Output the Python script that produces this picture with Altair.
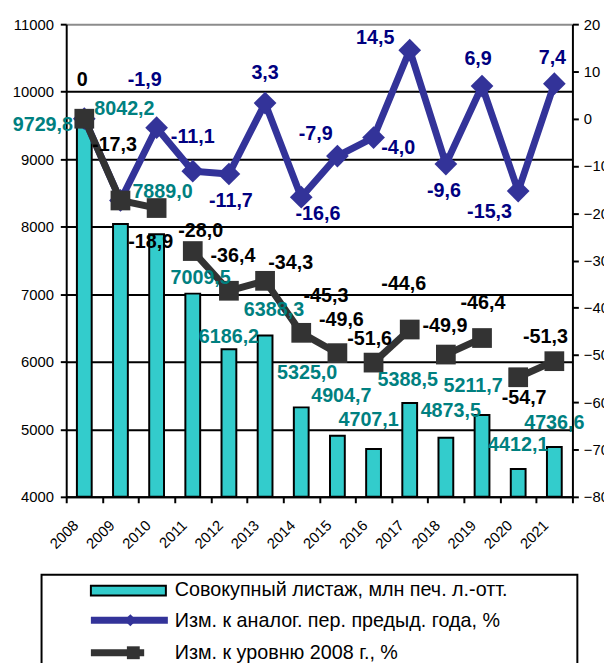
import altair as alt
import pandas as pd

FONT = "Liberation Sans"

# ---------------- data ----------------
years = ["2008", "2009", "2010", "2011", "2012", "2013", "2014",
         "2015", "2016", "2017", "2018", "2019", "2020", "2021"]
sheets = [9729.8, 8042.2, 7889.0, 7009.5, 6186.2, 6388.3, 5325.0,
          4904.7, 4707.1, 5388.5, 4873.5, 5211.7, 4412.1, 4736.6]
yoy = [0.0, -17.3, -1.9, -11.1, -11.7, 3.3, -16.6,
       -7.9, -4.0, 14.5, -9.6, 6.9, -15.3, 7.4]
vs2008 = [0.0, -17.3, -18.9, -28.0, -36.4, -34.3, -45.3,
          -49.6, -51.6, -44.6, -49.9, -46.4, -54.7, -51.3]
yoy_label_shown = [False, False, True, True, True, True, True,
                   True, True, True, True, True, True, True]
# visible pieces of the dark line (segments as drawn in the original)
black_runs = [0, 0, 0, 1, 1, 1, 1, 1, 2, 2, 3, 3, 4, 4]

left_ticks = [4000, 5000, 6000, 7000, 8000, 9000, 10000, 11000]
right_ticks = [-80, -70, -60, -50, -40, -30, -20, -10, 0, 10, 20]

series_names = ["Совокупный листаж, млн печ. л.-отт.",
                "Изм. к аналог. пер. предыд. года, %",
                "Изм. к уровню 2008 г., %"]

# ---------------- label nudges (px) ----------------
bar_lab_dx = [-42, 4, 6, 8, 0, 9, 6, 4, -5, -2, 5, -9, 0, 0]
bar_lab_dy = [15, -116, -43, -16, -12, -26, -35, -40, -29, -23, -27, -29, -24, -24]
yoy_lab_dx = [0, 0, -12, 0, 2, 0, 17, -22, 25, -35, -2, -4, -29, -2]
yoy_lab_dy = [0, 0, -48, -35, 27, -30, 17, -22, 11, -12, 27, -27, 21, -26]
blk_lab_dx = [-2, -6, -6, 8, 4, 26, 25, 4, -4, -6, -1, 1, 6, -9]
blk_lab_dy = [-39, -56, 34, -20, -35, -18, -37, -34, -24, -46, -29, -35, 21, -24]


def fmt(v):
    if v == 0:
        return "0"
    return f"{v:.1f}".replace(".", ",")


df = pd.DataFrame({
    "year": years,
    "sheets": sheets,
    "yoy": yoy,
    "vs2008": vs2008,
    "run": black_runs,
    "slabel": [fmt(v) for v in sheets],
    "ylabel": [fmt(v) if s else "" for v, s in zip(yoy, yoy_label_shown)],
    "blabel": [fmt(v) for v in vs2008],
    "bdx": bar_lab_dx, "bdy": bar_lab_dy,
    "ydx": yoy_lab_dx, "ydy": yoy_lab_dy,
    "kdx": blk_lab_dx, "kdy": blk_lab_dy,
})

TEAL = "#33CCCC"
TEAL_TXT = "#008080"
BLUE = "#333399"
BLUE_TXT = "#000080"
DARK = "#333333"

x_axis = alt.Axis(
    title=None, labelAngle=-45, labelAlign="right", labelBaseline="middle",
    labelPadding=20, labelOffset=-9, tickBand="extent", tickSize=6,
    tickWidth=2, tickColor="black", domainColor="black", domainWidth=2,
    labelFont=FONT, labelFontSize=15, labelColor="black",
)
x_enc = alt.X("year:O", scale=alt.Scale(paddingInner=0, paddingOuter=0),
              axis=x_axis, title=None)

left_scale = alt.Scale(domain=[4000, 11000], zero=False, nice=False)
right_scale = alt.Scale(domain=[-80, 20], zero=False, nice=False)

left_axis = alt.Axis(
    title=None, values=left_ticks, format="d", grid=True,
    gridColor={"condition": {"test": "datum.value === 11000", "value": "#8c8c8c"},
               "value": "black"},
    gridWidth=2, tickSize=6, tickWidth=2, tickColor="black",
    domainColor="black", domainWidth=2, labelPadding=7,
    labelFont=FONT, labelFontSize=15, labelColor="black", labelOverlap=False,
)
right_axis = alt.Axis(
    title=None, orient="right", values=right_ticks, format="d", grid=False,
    tickSize=6, tickWidth=2, tickColor="black", domainColor="black",
    domainWidth=2, labelPadding=5, labelFont=FONT, labelFontSize=15,
    labelColor="black", labelOverlap=False, labelAlign="left",
)

base = alt.Chart(df)

bars = base.mark_bar(width=15, color=TEAL, stroke="black", strokeWidth=2).encode(
    x=x_enc,
    y=alt.Y("sheets:Q", scale=left_scale, axis=left_axis),
    y2=alt.datum(4000),
)

y_right = alt.Y("yoy:Q", scale=right_scale, axis=right_axis)
y_right2 = alt.Y("vs2008:Q", scale=right_scale, axis=right_axis)

blue_line = base.mark_line(color=BLUE, strokeWidth=7).encode(x=x_enc, y=y_right)
blue_pts = base.mark_point(shape="diamond", filled=True, size=530, color=BLUE,
                           opacity=1).encode(x=x_enc, y=y_right)
dark_line = base.mark_line(color=DARK, strokeWidth=7).encode(
    x=x_enc, y=y_right2, detail="run:N")
dark_pts = base.mark_point(shape="square", filled=True, size=400, color=DARK,
                           opacity=1).encode(x=x_enc, y=y_right2)
blue_txt = base.mark_text(
    font=FONT, fontSize=20, fontWeight="bold", color=BLUE_TXT,
    align="center", baseline="middle",
    dx={"expr": "datum.ydx"}, dy={"expr": "datum.ydy"},
).encode(x=x_enc, y=y_right, text="ylabel:N")
dark_txt = base.mark_text(
    font=FONT, fontSize=20, fontWeight="bold", color="black",
    align="center", baseline="middle",
    dx={"expr": "datum.kdx"}, dy={"expr": "datum.kdy"},
).encode(x=x_enc, y=y_right2, text="blabel:N")

right = alt.layer(blue_line, blue_pts, dark_line, dark_pts, blue_txt, dark_txt)

bar_txt = base.mark_text(
    font=FONT, fontSize=20, fontWeight="bold", color=TEAL_TXT,
    align="center", baseline="middle",
    dx={"expr": "datum.bdx"}, dy={"expr": "datum.bdy"},
).encode(x=x_enc, y=alt.Y("sheets:Q", scale=left_scale, axis=None),
         text="slabel:N")

# ---------------- custom legend ----------------
one = pd.DataFrame({"k": [0]})
lg_box = alt.Chart(one).mark_rect(fill="white", stroke="black", strokeWidth=2).encode(
    x=alt.value(-25), x2=alt.value(518), y=alt.value(558), y2=alt.value(720))
lg_bar = alt.Chart(one).mark_rect(fill=TEAL, stroke="black", strokeWidth=2).encode(
    x=alt.value(25), x2=alt.value(101), y=alt.value(569), y2=alt.value(579))
lg_bline = alt.Chart(one).mark_rule(color=BLUE, strokeWidth=7).encode(
    x=alt.value(25), x2=alt.value(103), y=alt.value(604))
lg_bpt = alt.Chart(one).mark_point(shape="diamond", filled=True, size=150,
                                   color=BLUE, opacity=1).encode(
    x=alt.value(65), y=alt.value(604))
lg_kline = alt.Chart(one).mark_rule(color=DARK, strokeWidth=7).encode(
    x=alt.value(25), x2=alt.value(79), y=alt.value(637))
lg_kpt = alt.Chart(one).mark_point(shape="square", filled=True, size=170,
                                   color=DARK, opacity=1).encode(
    x=alt.value(68), y=alt.value(637))
lg_texts = []
for name, yy in zip(series_names, [574, 605, 637]):
    lg_texts.append(
        alt.Chart(pd.DataFrame({"t": [name]})).mark_text(
            font=FONT, fontSize=20, color="black", align="left", baseline="middle"
        ).encode(x=alt.value(110), y=alt.value(yy), text="t:N")
    )

chart = alt.layer(
    bars, right, bar_txt, lg_box, lg_bar, lg_bline, lg_bpt, lg_kline, lg_kpt, *lg_texts
).resolve_scale(y="independent").properties(
    width=513, height=479,
    autosize=alt.AutoSizeParams(type="none"),
    padding={"left": 59, "top": 12, "right": 32, "bottom": 164},
).configure_view(stroke=None)

chart.save("out.html", embed_options={"renderer": "svg", "actions": False})
